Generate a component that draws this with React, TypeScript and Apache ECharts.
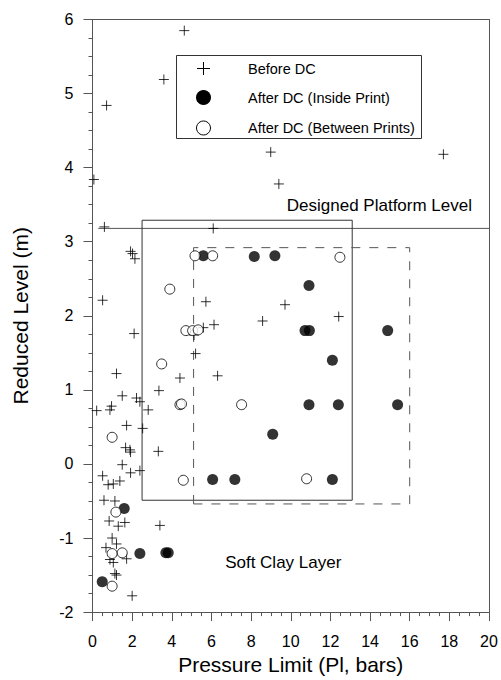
import React, { useEffect, useRef } from "react";
import * as echarts from "echarts";

const beforeDC: number[][] = [
  [4.63, 5.85], [3.6, 5.19], [0.71, 4.84], [8.99, 4.21], [17.7, 4.18], [9.4, 3.78], [0.07, 3.84], [0.6, 3.2], [6.09, 3.18],
  [1.92, 2.87], [2.02, 2.84], [2.14, 2.77],
  [0.51, 2.21], [5.72, 2.19], [9.71, 2.15], [12.42, 1.99], [8.58, 1.93], [2.1, 1.76], [5.59, 1.84], [6.13, 1.88], [5.12, 1.74], [5.2, 1.49],
  [1.21, 1.22], [4.41, 1.16], [6.31, 1.19], [3.35, 0.99], [1.5, 0.92], [2.22, 0.89], [2.39, 0.84], [0.96, 0.78], [0.88, 0.73], [0.21, 0.72], [2.81, 0.73],
  [1.72, 0.52], [2.53, 0.48], [1.67, 0.22], [1.89, 0.19], [1.92, 0.16], [3.32, 0.17], [1.5, -0.01], [1.92, -0.12], [2.39, -0.09], [0.51, -0.16],
  [0.79, -0.28], [1.05, -0.27], [1.38, -0.23], [0.58, -0.49], [1.13, -0.5], [0.84, -0.77], [1.3, -0.84], [1.63, -0.79], [3.4, -0.83],
  [0.99, -1.0], [1.21, -1.08], [0.68, -1.13], [0.88, -1.29], [1.72, -1.28], [1.05, -1.33], [1.13, -1.48], [1.21, -1.5], [2.0, -1.78],
];

const insidePrint: number[][] = [
  [5.59, 2.81], [8.16, 2.8], [9.2, 2.81], [10.92, 2.41], [10.72, 1.8], [10.94, 1.8], [14.89, 1.8], [12.1, 1.4],
  [10.92, 0.8], [12.4, 0.8], [15.39, 0.8], [9.09, 0.4], [6.06, -0.21], [7.18, -0.21], [12.1, -0.21],
  [1.6, -0.6], [2.39, -1.21], [3.7, -1.2], [3.82, -1.2], [0.49, -1.59],
];

const betweenPrints: number[][] = [
  [5.17, 2.81], [6.06, 2.81], [12.48, 2.79], [3.9, 2.36], [4.71, 1.8], [5.05, 1.8], [5.33, 1.81], [3.49, 1.35],
  [4.41, 0.8], [4.49, 0.81], [7.52, 0.8], [0.99, 0.36], [4.58, -0.22], [10.8, -0.2], [1.18, -0.65],
  [0.99, -1.21], [1.5, -1.2], [0.99, -1.65],
];

const platformLine: number[][] = [[0.29, 3.18], [20, 3.18]];
const solidBox: number[][] = [[2.5, -0.49], [2.5, 3.29], [13.1, 3.29], [13.1, -0.49], [2.5, -0.49]];
const dashedBox: number[][] = [[5.1, -0.54], [5.1, 2.92], [16.0, 2.92], [16.0, -0.54], [5.1, -0.54]];

const legendLabels = ["Before DC", "After DC (Inside Print)", "After DC (Between Prints)"];
const platformText = "Designed Platform Level";
const platformTextPos = [9.8, 3.49];
const clayText = "Soft Clay Layer";
const clayTextPos = [6.69, -1.33];

const FONT = 'Arial, "Liberation Sans", sans-serif';
const PLUS = "path://M0,5L10,5M5,0L5,10";
const AXIS_COLOR = "#555";

function mainAxis(extra: any) {
  return {
    type: "value",
    axisLine: { show: true, onZero: false, lineStyle: { color: AXIS_COLOR, width: 1 } },
    axisTick: { show: true, inside: false, length: 9, lineStyle: { color: AXIS_COLOR, width: 1 } },
    minorTick: { show: true, splitNumber: 4, length: 4, lineStyle: { color: AXIS_COLOR, width: 1 } },
    splitLine: { show: false },
    minorSplitLine: { show: false },
    ...extra,
  };
}

function borderAxis(extra: any) {
  return {
    type: "value",
    axisLine: { show: true, onZero: false, lineStyle: { color: AXIS_COLOR, width: 1 } },
    axisTick: { show: false },
    axisLabel: { show: false },
    splitLine: { show: false },
    ...extra,
  };
}

export default function App() {
  const ref = useRef<HTMLDivElement>(null);
  useEffect(() => {
    if (!ref.current) return;
    const chart = echarts.init(ref.current, undefined, { renderer: "svg" });
    const gridLeft = 92.5, gridTop = 19.5, gridW = 396.5, gridH = 594;
    const option: any = {
      animation: false,
      backgroundColor: "#fff",
      grid: { left: gridLeft, top: gridTop, width: gridW, height: gridH, show: false },
      xAxis: [
        mainAxis({
          min: 0, max: 20, interval: 2, position: "bottom",
          name: "Pressure Limit (Pl, bars)", nameLocation: "middle", nameGap: 31,
          nameTextStyle: { fontFamily: FONT, fontSize: 21, color: "#000" },
          axisLabel: { fontFamily: FONT, fontSize: 16, color: "#000", margin: 21 },
        }),
        borderAxis({ min: 0, max: 20, position: "top" }),
      ],
      yAxis: [
        mainAxis({
          min: -2, max: 6, interval: 1, position: "left",
          name: "Reduced Level (m)", nameLocation: "middle", nameGap: 62,
          nameTextStyle: { fontFamily: FONT, fontSize: 21, color: "#000" },
          axisLabel: { fontFamily: FONT, fontSize: 16, color: "#000", margin: 19 },
        }),
        borderAxis({ min: -2, max: 6, position: "right" }),
      ],
      series: [
        {
          type: "line", data: platformLine, symbol: "none", silent: true,
          lineStyle: { color: "#555", width: 1 }, z: 1,
        },
        {
          type: "line", data: solidBox, symbol: "none", silent: true,
          lineStyle: { color: "#333", width: 1 }, z: 1,
        },
        {
          type: "line", data: dashedBox, symbol: "none", silent: true,
          lineStyle: { color: "#555", width: 1, type: [9, 9] }, z: 1,
        },
        {
          name: legendLabels[0], type: "scatter", data: beforeDC, symbol: PLUS, symbolSize: 10,
          itemStyle: { color: "transparent", borderColor: "#000", borderWidth: 1 }, z: 3,
        },
        {
          name: legendLabels[1], type: "scatter", data: insidePrint, symbol: "circle", symbolSize: 11,
          itemStyle: { color: "#000", borderColor: "#000", borderWidth: 0 }, z: 4,
        },
        {
          name: legendLabels[2], type: "scatter", data: betweenPrints, symbol: "circle", symbolSize: 10,
          itemStyle: { color: "#fff", borderColor: "#000", borderWidth: 1 }, z: 5,
        },
      ],
    };
    chart.setOption(option);

    const p1 = chart.convertToPixel({ gridIndex: 0 }, platformTextPos) as number[];
    const p2 = chart.convertToPixel({ gridIndex: 0 }, clayTextPos) as number[];
    const lx = 176.5, ly = 55.5, lw = 245, lh = 83;
    const mx = 203.5, tx = 248;
    const rows = [68.5, 97.5, 128];
    chart.setOption({
      graphic: [
        {
          type: "text", x: p1[0], y: p1[1], z: 10,
          style: { text: platformText, font: `17px ${FONT}`, fill: "#000", verticalAlign: "middle" },
        },
        {
          type: "text", x: p2[0], y: p2[1], z: 10,
          style: { text: clayText, font: `17px ${FONT}`, fill: "#000", verticalAlign: "middle" },
        },
        {
          type: "rect", z: 10,
          shape: { x: lx, y: ly, width: lw, height: lh },
          style: { fill: "#fff", stroke: "#333", lineWidth: 1 },
        },
        {
          type: "line", z: 11,
          shape: { x1: mx - 6.5, y1: rows[0], x2: mx + 6.5, y2: rows[0] },
          style: { stroke: "#000", lineWidth: 1 },
        },
        {
          type: "line", z: 11,
          shape: { x1: mx, y1: rows[0] - 6.5, x2: mx, y2: rows[0] + 6.5 },
          style: { stroke: "#000", lineWidth: 1 },
        },
        {
          type: "circle", z: 11,
          shape: { cx: mx, cy: rows[1], r: 7.5 },
          style: { fill: "#000" },
        },
        {
          type: "circle", z: 11,
          shape: { cx: mx, cy: rows[2], r: 7 },
          style: { fill: "#fff", stroke: "#000", lineWidth: 1 },
        },
        ...legendLabels.map((t, i) => ({
          type: "text", z: 11, x: tx, y: rows[i],
          style: { text: t, font: `14.5px ${FONT}`, fill: "#000", verticalAlign: "middle" },
        })),
      ],
    });
    return () => chart.dispose();
  }, []);
  return (
    <div
      ref={ref}
      style={{ position: "fixed", left: 0, top: 0, width: 501, height: 680, background: "#fff" }}
    />
  );
}
